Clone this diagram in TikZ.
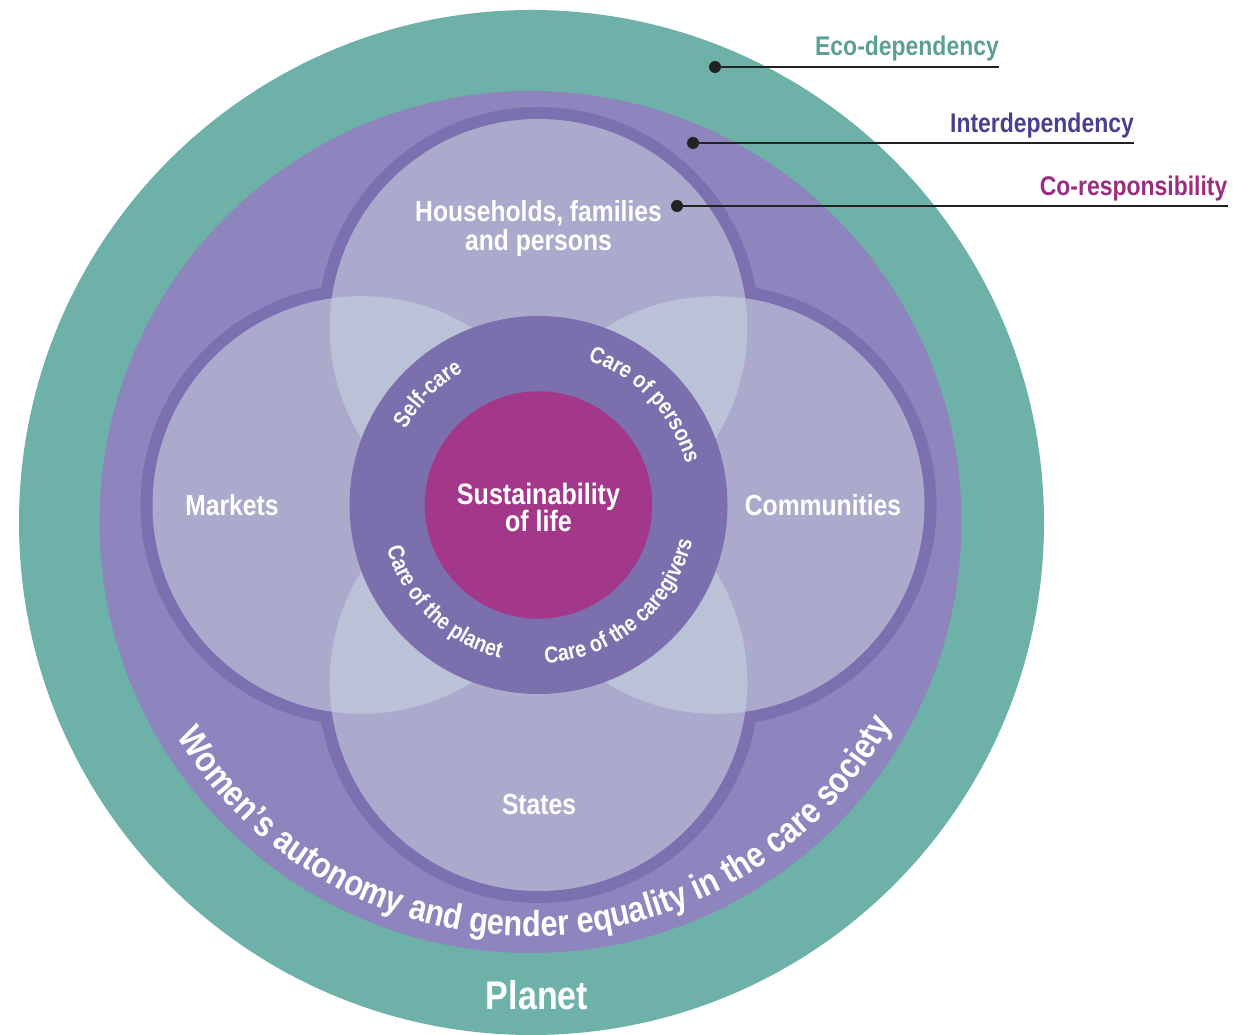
\documentclass[tikz,border=0pt]{standalone}
\usepackage{fontspec}
\setmainfont{Liberation Sans}[FakeStretch=0.85]
\usetikzlibrary{decorations.text}

\definecolor{planetteal}{HTML}{6DB1A8}
\definecolor{careviolet}{HTML}{8E84BE}
\definecolor{petaledge}{HTML}{7C70B0}
\definecolor{petalfill}{HTML}{ABAACD}
\definecolor{lensfill}{HTML}{BBC1D6}
\definecolor{ringviolet}{HTML}{7B6FAE}
\definecolor{lifemagenta}{HTML}{A3378A}
\definecolor{ecotext}{HTML}{5C9F95}
\definecolor{intertext}{HTML}{473F8F}
\definecolor{cotext}{HTML}{9B2D80}
\definecolor{leader}{HTML}{222222}

\newcommand\ringfont{\bfseries\fontsize{23}{23}\selectfont}
\newcommand\bandfont{\bfseries\fontsize{36}{36}\selectfont}

\begin{document}
\begin{tikzpicture}[x=1pt,y=1pt,
  lab/.style={text=white,inner sep=0pt,align=center,anchor=base,
              font=\bfseries\fontsize{29}{29}\selectfont},
  side/.style={inner sep=0pt,anchor=base east,
               font=\bfseries\fontsize{27}{27}\selectfont},
  dot/.style={circle,fill=leader,inner sep=0pt,minimum size=12pt},
  leaderline/.style={draw=leader,line width=2pt},
  arctext/.style={decorate,decoration={text along path,text align=center,
                  text color=white,text={#1}}}]
\useasboundingbox (0,0) rectangle (1233,1035);

% planet and care society discs
\fill[planetteal] (531.5,512.5) circle[radius=512.5];
\fill[careviolet] (530.5,513) circle[radius=431];

% four overlapping petals
\coordinate (C) at (538.5,530);
\foreach \a in {0,90,180,270}
  \fill[petaledge] (C) ++(\a:177.2) circle[radius=220.8];
\foreach \a in {0,90,180,270}
  \fill[petalfill] (C) ++(\a:177.2) circle[radius=208.8];
\foreach \a [evaluate=\a as \b using \a+90] in {0,90,180,270} {
  \begin{scope}
    \clip (C) ++(\a:177.2) circle[radius=208.8];
    \fill[lensfill] (C) ++(\b:177.2) circle[radius=208.8];
  \end{scope}
}

% care ring and core
\fill[ringviolet] (C) circle[radius=189];
\fill[lifemagenta] (C) circle[radius=113.7];

% petal labels (base anchor sits on the last line)
\node[lab] (households) at (538.5,784) {Households, families\\and persons};
\node[lab] (markets) at (232,519) {Markets};
\node[lab] (communities) at (823,519) {Communities};
\node[lab] (states) at (539,220) {States};
\node[lab,font=\bfseries\fontsize{29.5}{27.7}\selectfont] (life) at (538.5,503)
  {Sustainability\\of life};
\node[lab,font=\bfseries\fontsize{40}{40}\selectfont] (planet) at (537,25) {Planet};

% texts around the care ring
\path[arctext={|\ringfont|Self-care}]
  (C) ++(175:153) arc[start angle=175,end angle=95,radius=153];
\path[arctext={|\ringfont|Care of persons}]
  (C) ++(93.3:153) arc[start angle=93.3,end angle=-6.7,radius=153];
\path[arctext={|\ringfont|Care of the planet}]
  (C) ++(176:158) arc[start angle=176,end angle=276,radius=158];
\path[arctext={|\ringfont|Care of the caregivers}]
  (C) ++(254.6:158) arc[start angle=254.6,end angle=364.6,radius=158];

% text around the care society band
\path[arctext={|\bandfont|Women’s autonomy and gender equality in the care society}]
  (530.5,513) ++(195:414) arc[start angle=195,end angle=347,radius=414];

% leaders and their labels
\node[dot] (ecodot) at (715,968) {};
\coordinate (ecoend) at (999,968);
\draw[leaderline] (ecodot.center) -- (ecoend);
\node[side,text=ecotext] (eco) at (999,979) {Eco-dependency};

\node[dot] (interdot) at (693,892) {};
\coordinate (interend) at (1134,892);
\draw[leaderline] (interdot.center) -- (interend);
\node[side,text=intertext] (inter) at (1134,902) {Interdependency};

\node[dot] (codot) at (677,829) {};
\coordinate (coend) at (1227.5,829);
\draw[leaderline] (codot.center) -- (coend);
\node[side,text=cotext] (co) at (1227.5,839.5) {Co-responsibility};
\end{tikzpicture}
\end{document}
